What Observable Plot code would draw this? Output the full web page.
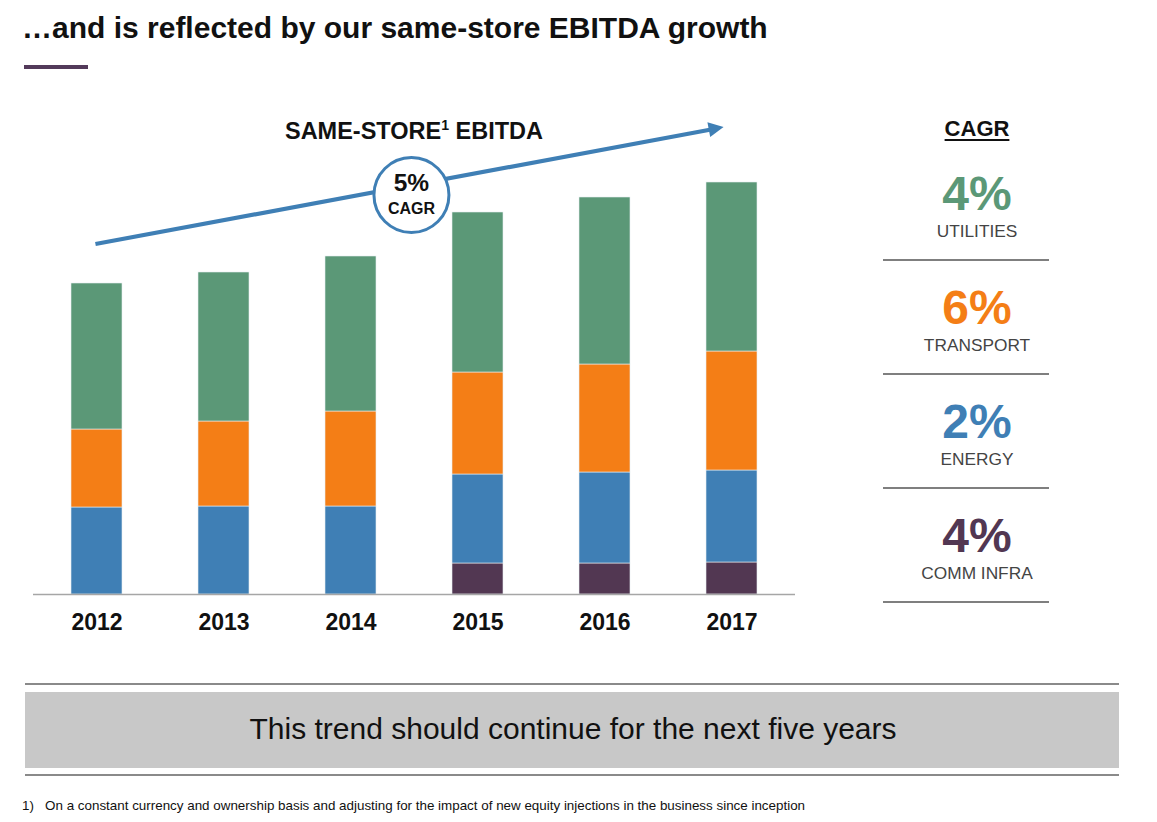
<!DOCTYPE html>
<html><head><meta charset="utf-8">
<script src="https://cdn.jsdelivr.net/npm/d3@7"></script>
<script src="https://cdn.jsdelivr.net/npm/@observablehq/plot@0.6"></script>
<style>
body{margin:0;background:#fff;font-family:"Liberation Sans",Arial,sans-serif;}
#page{position:relative;width:1157px;height:822px;overflow:hidden;background:#fff;}
.abs{position:absolute;white-space:nowrap;}
</style></head><body><div id="page"></div>
<script>
// ---- data ----
const years = ["2012", "2013", "2014", "2015", "2016", "2017"];
const segments = ["COMM INFRA", "ENERGY", "TRANSPORT", "UTILITIES"]; // bottom -> top
const commInfra = [0, 0, 0, 31, 31, 32];
const energy = [87, 88, 88, 89, 91, 92];
const transport = [78, 85, 95, 102, 108, 119];
const utilities = [146, 149, 155, 160, 167, 169];
const segmentColors = ["#523752", "#3f7fb5", "#f47e16", "#5b9877"];
const cagrLabels = ["UTILITIES", "TRANSPORT", "ENERGY", "COMM INFRA"];
const cagrValues = ["4%", "6%", "2%", "4%"];
const cagrColors = ["#5b9877", "#f47e16", "#3f7fb5", "#523752"];
const totalCagr = "5%";

const seriesBySegment = {"COMM INFRA": commInfra, "ENERGY": energy, "TRANSPORT": transport, "UTILITIES": utilities};
const table = [];
for (const s of segments) years.forEach((y, i) => table.push({year: y, segment: s, value: seriesBySegment[s][i]}));

const page = document.getElementById("page");
function addText(txt, {left, baseline, size, weight = "normal", color = "#000", anchor = "start", extra = ""}) {
  const d = document.createElement("div");
  d.className = "abs";
  d.style.cssText = `font-size:${size}px;line-height:${size}px;font-weight:${weight};color:${color};top:${baseline - 0.8465 * size}px;${extra}`;
  if (anchor === "middle") { d.style.left = left + "px"; d.style.transform = "translateX(-50%)"; }
  else d.style.left = left + "px";
  d.innerHTML = txt;
  page.appendChild(d);
  return d;
}
function addBox(css) { const d = document.createElement("div"); d.className = "abs"; d.style.cssText = css; page.appendChild(d); }

// title
addText("…and is reflected by our same-store EBITDA growth", {left: 22, baseline: 38, size: 30, weight: "bold", color: "#111"});
addBox("left:24px;top:65px;width:64px;height:4px;background:#533a5a;");
addText('SAME-STORE<span style="font-size:0.6em;vertical-align:0.65em">1</span> EBITDA', {left: 414, baseline: 134, size: 23.5, weight: "bold", color: "#111", anchor: "middle"});

// chart
const plot = Plot.plot({
  width: 800, height: 540,
  marginLeft: 33, marginRight: 5, marginTop: 0, marginBottom: 46,
  style: {fontFamily: "Liberation Sans, Arial, sans-serif", fontSize: "23px", fontWeight: "bold", color: "#111", background: "transparent", overflow: "visible"},
  x: {domain: years, paddingInner: 0.6, paddingOuter: 0.29, label: null, tickSize: 0, tickPadding: 19},
  y: {domain: [0, 494], axis: null},
  color: {domain: segments, range: segmentColors},
  marks: [
    Plot.barY(table, {x: "year", y: "value", fill: "segment", stroke: "#e8eef0", strokeWidth: 0.6}),
    Plot.ruleY([0], {stroke: "#a6a6a6", strokeWidth: 1.5})
  ]
});
const wrap = document.createElement("div");
wrap.className = "abs"; wrap.style.left = "0px"; wrap.style.top = "100px";
wrap.appendChild(plot);
page.appendChild(wrap);

// annotation arrow + CAGR bubble, positioned through the plot's scales
const sx = plot.scale("x"), sy = plot.scale("y");
const xb = d3.scaleBand(sx.domain, sx.range).paddingInner(sx.paddingInner).paddingOuter(sx.paddingOuter).align(sx.align ?? 0.5);
const yl = d3.scaleLinear(sy.domain, sy.range);
const cx = v => xb(v) + xb.bandwidth() / 2;
const arrowFrom = {year: "2012", value: 350};
const arrowTo = {year: "2017", value: 467, dx: -9};
const bubble = {from: "2014", to: "2015", t: 0.48, value: 399};
const svg = d3.select(plot);
const x1 = cx(arrowFrom.year), y1 = yl(arrowFrom.value);
const x2 = cx(arrowTo.year) + arrowTo.dx, y2 = yl(arrowTo.value);
const ang = Math.atan2(y2 - y1, x2 - x1);
const hl = 15, hw = 7.5;
const bx = x2 - hl * Math.cos(ang), by = y2 - hl * Math.sin(ang);
const g = svg.append("g");
g.append("line").attr("x1", x1).attr("y1", y1).attr("x2", bx + 1).attr("y2", by).attr("stroke", "#3f7fb5").attr("stroke-width", 4.2);
g.append("path").attr("fill", "#3f7fb5").attr("d", `M${x2},${y2}L${bx - hw * Math.sin(ang)},${by + hw * Math.cos(ang)}L${bx + hw * Math.sin(ang)},${by - hw * Math.cos(ang)}Z`);
const bcx = cx(bubble.from) + (cx(bubble.to) - cx(bubble.from)) * bubble.t, bcy = yl(bubble.value);
g.append("circle").attr("cx", bcx).attr("cy", bcy).attr("r", 37.5).attr("fill", "#fff").attr("stroke", "#3f7fb5").attr("stroke-width", 3);
g.append("text").attr("x", bcx).attr("y", bcy - 4).attr("text-anchor", "middle").attr("font-size", 24.5).attr("font-weight", "bold").attr("fill", "#111").text(totalCagr);
g.append("text").attr("x", bcx).attr("y", bcy + 19).attr("text-anchor", "middle").attr("font-size", 16).attr("font-weight", "bold").attr("fill", "#111").text("CAGR");

// CAGR panel
addText("CAGR", {left: 977, baseline: 137, size: 22, weight: "bold", color: "#111", anchor: "middle", extra: "text-decoration:underline;text-underline-offset:3px;text-decoration-thickness:2px;"});
cagrLabels.forEach((lab, i) => {
  const off = i * 114;
  addText(cagrValues[i], {left: 977, baseline: 211 + off, size: 48, weight: "bold", color: cagrColors[i], anchor: "middle"});
  addText(lab, {left: 977, baseline: 238 + off, size: 17.3, color: "#444", anchor: "middle"});
  addBox(`left:883px;top:${259 + off}px;width:166px;height:1.5px;background:#7f7f7f;`);
});

// banner
addBox("left:25px;top:683px;width:1094px;height:1.5px;background:#8a8a8a;");
addBox("left:25px;top:692px;width:1094px;height:76px;background:#c8c8c8;");
addBox("left:25px;top:774px;width:1094px;height:1.5px;background:#8a8a8a;");
addText("This trend should continue for the next five years", {left: 573, baseline: 739, size: 30, color: "#111", anchor: "middle"});

// footnote
addText("1)&nbsp;&nbsp; On a constant currency and ownership basis and adjusting for the impact of new equity injections in the business since inception", {left: 22, baseline: 810, size: 13.4, color: "#111"});
</script></body></html>
